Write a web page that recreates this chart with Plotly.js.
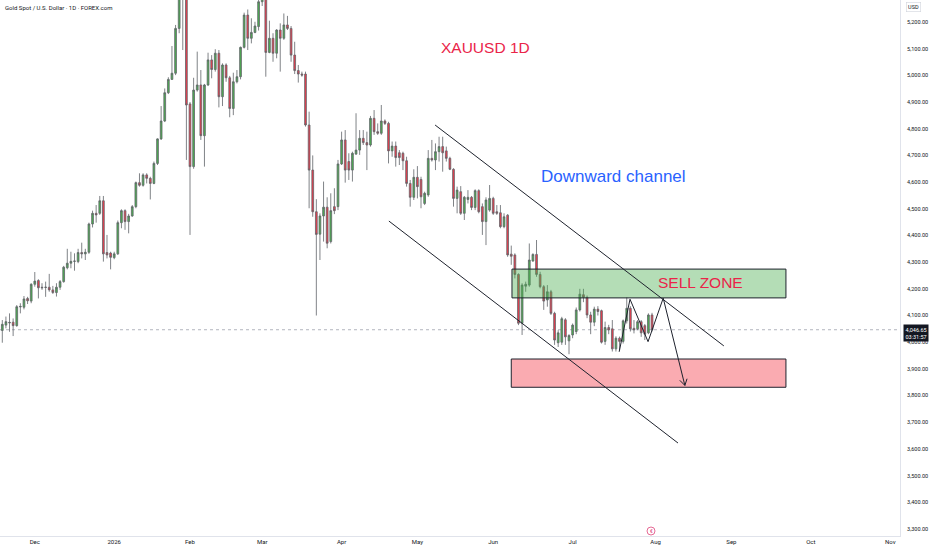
<!DOCTYPE html>
<html>
<head>
<meta charset="utf-8">
<script src="https://cdn.plot.ly/plotly-3.0.1.min.js"></script>
<style>html,body{margin:0;padding:0;background:#fff;}#chart{width:932px;height:550px;}</style>
</head>
<body>
<div id="chart"></div>
<script>
// ---- data (daily XAUUSD candles from 2025-11-18) ----
const firstDay = '2025-11-18';
const holidays = ['2025-12-25', '2026-01-01', '2026-04-03'];

const open = [
4044,4064,4072,4075,4062,4132,4131,4164,4154,4217,4231,4206,4205,4206,4196,4186,4206,4227,4279,4296,
4303,4302,4336,4331,4337,4443,4483,4483,4530,4336,4334,4317,4331,4448,4493,4452,4473,4508,4598,4588,
4627,4614,4595,4670,4762,4829,4935,4985,5008,5176,5400,5380,4893,4658,4945,4964,4774,4964,5058,5022,
5083,4920,5039,4991,4876,4976,4995,5105,5226,5139,5161,5183,5276,5300,5086,5139,5083,5170,5139,5189,
5176,5076,5018,5005,5005,4814,4645,4489,4405,4473,4506,4377,4508,4508,4668,4758,4677,4645,4705,4720,
4764,4748,4739,4839,4789,4783,4829,4820,4717,4735,4710,4708,4680,4595,4543,4618,4610,4520,4552,4689,
4683,4714,4733,4717,4689,4648,4539,4564,4483,4535,4543,4505,4568,4508,4452,4495,4539,4489,4485,4433,
4476,4330,4327,4254,4071,4210,4214,4304,4329,4254,4208,4158,4189,4108,3998,4000,4084,4005,4027,4040,
4121,4178,4168,4102,4075,4124,4118,4003,4055,4050,3975,4015,4003,4080,4127,4052,4050,4077,4062,4035,
4102];
const high = [
4083,4096,4108,4089,4139,4146,4173,4170,4221,4263,4236,4221,4227,4256,4211,4221,4233,4286,4350,4339,
4333,4350,4373,4350,4448,4493,4514,4548,4548,4402,4339,4339,4456,4498,4498,4481,4514,4602,4633,4633,
4633,4620,4677,4764,4885,4951,4993,5110,5189,5415,5595,5450,4900,4991,5089,5020,4968,5085,5076,5098,
5095,5045,5045,4998,5010,5020,5108,5235,5247,5214,5201,5285,5330,5320,5205,5158,5173,5195,5232,5223,
5185,5126,5039,5014,5014,4864,4700,4536,4483,4602,4543,4558,4577,4683,4789,4795,4708,4714,4858,4795,
4795,4789,4848,4870,4820,4889,4835,4826,4752,4752,4720,4714,4695,4608,4648,4660,4620,4564,4720,4758,
4745,4770,4770,4733,4695,4652,4583,4585,4548,4570,4548,4573,4573,4520,4543,4589,4545,4514,4514,4483,
4480,4362,4333,4258,4221,4227,4370,4333,4383,4264,4214,4214,4196,4114,4045,4095,4090,4030,4070,4130,
4200,4200,4175,4114,4133,4135,4122,4077,4065,4083,4022,4021,4085,4168,4135,4083,4083,4083,4068,4108,
4110];
const low = [
3998,4052,4039,4023,4058,4108,4123,4143,4146,4208,4164,4196,4170,4189,4181,4171,4196,4223,4273,4277,
4268,4296,4314,4308,4331,4430,4448,4477,4302,4314,4273,4311,4327,4427,4421,4408,4470,4502,4583,4583,
4595,4535,4592,4664,4758,4825,4930,4983,5001,5158,5095,4683,4402,4650,4939,4758,4658,4960,4989,5014,
4880,4885,4976,4843,4851,4970,4985,5101,5095,5120,5158,5168,5260,4995,5083,5051,5064,5014,5133,5170,
5051,5005,4973,4995,4808,4502,4470,4100,4308,4377,4352,4370,4480,4495,4664,4598,4608,4602,4702,4702,
4739,4645,4733,4777,4777,4777,4814,4670,4695,4658,4664,4645,4583,4508,4533,4539,4502,4514,4545,4677,
4645,4677,4639,4677,4645,4508,4483,4477,4458,4520,4495,4495,4483,4402,4364,4489,4477,4477,4427,4427,
4320,4290,4239,4064,4027,4189,4208,4302,4245,4202,4121,4133,4102,3990,3982,3990,3990,3955,4015,4030,
4115,4150,4090,4030,4060,4100,3995,3990,4030,3965,3965,3970,3995,4070,4040,4033,4045,4020,4008,4030,
4040];
const close = [
4067,4077,4074,4062,4133,4134,4162,4155,4217,4229,4204,4204,4206,4196,4186,4206,4227,4281,4296,4303,
4304,4336,4331,4337,4443,4483,4477,4530,4331,4327,4318,4331,4448,4493,4452,4473,4508,4598,4588,4627,
4614,4595,4670,4762,4829,4935,4985,5008,5176,5400,5380,4889,4658,4945,4964,4774,4964,5058,5022,5083,
4920,5039,4991,4876,4976,4995,5105,5226,5139,5161,5185,5276,5300,5086,5139,5083,5170,5139,5189,5176,
5076,5018,5005,5001,4814,4645,4489,4404,4473,4506,4371,4493,4493,4668,4758,4645,4645,4708,4720,4764,
4748,4739,4839,4789,4783,4829,4820,4717,4735,4692,4692,4680,4595,4543,4618,4583,4545,4558,4689,4683,
4714,4733,4710,4689,4648,4539,4570,4483,4543,4543,4505,4568,4489,4452,4533,4539,4483,4483,4433,4470,
4327,4322,4254,4071,4214,4217,4308,4329,4254,4208,4154,4189,4108,4008,4035,4088,4020,4025,4064,4121,
4180,4168,4102,4075,4124,4115,4000,4055,4046,3975,4015,4003,4080,4127,4050,4046,4077,4035,4030,4102,
4046.65];

const monthTickDates = ['2025-12-01','2026-01-02','2026-02-02','2026-03-02','2026-04-01','2026-05-01',
                        '2026-06-01','2026-07-01','2026-08-03','2026-09-01','2026-10-01','2026-11-02'];
const monthTickLabels = ['Dec','2026','Feb','Mar','Apr','May','Jun','Jul','Aug','Sep','Oct','Nov'];
const priceTicks = [3300,3400,3500,3600,3700,3800,3900,4000,4100,4200,4300,4400,4500,4600,4700,4800,4900,5000,5100,5200];
const lastPrice = close[close.length - 1];
const countdown = '03:31:57';

// ---- trading-day calendar (weekdays without the session holidays) ----
const DAY = 86400000;
const cal = [];
(function () {
  let t = Date.parse(firstDay + 'T00:00:00Z');
  while (cal.length < 270) {
    const dd = new Date(t);
    const wd = dd.getUTCDay();
    const s = dd.toISOString().slice(0, 10);
    if (wd !== 0 && wd !== 6 && holidays.indexOf(s) < 0) cal.push(t);
    t += DAY;
  }
})();
function fmt(ms) { return new Date(ms).toISOString().slice(0, 19).replace('T', ' '); }
function xAt(i) {           // fractional trading-bar index -> date string
  const k = Math.floor(i);
  if (k < 0) return fmt(cal[0] + i * DAY);
  return fmt(cal[k] + (i - k) * DAY);
}
const dates = cal.slice(0, close.length).map(t => new Date(t).toISOString().slice(0, 10));

// ---- chart ----
const trace = {
  type: 'candlestick',
  x: dates, open: open, high: high, low: low, close: close,
  increasing: { line: { color: '#5f6368', width: 0.8 }, fillcolor: '#4caf50' },
  decreasing: { line: { color: '#5f6368', width: 0.8 }, fillcolor: '#ef3b4c' },
  hoverinfo: 'skip',
  showlegend: false
};

const W = 900, H = 536;  // plot area in px
const px = v => v / W;
const py = v => 1 - v / H;
const lineStyle = { color: '#1e222d', width: 1 };
function seg(i0, y0, i1, y1) {
  return { type: 'line', xref: 'x', yref: 'y', x0: xAt(i0), y0: y0, x1: xAt(i1), y1: y1, line: lineStyle, layer: 'above' };
}

const shapes = [
  // current price dotted line
  { type: 'line', xref: 'paper', yref: 'y', x0: 0, x1: 1, y0: lastPrice, y1: lastPrice,
    line: { color: '#b2b5be', width: 1, dash: 'dot' }, layer: 'below' },
  // sell zone box
  { type: 'rect', xref: 'x', yref: 'y', x0: xAt(141.2), x1: xAt(217.1), y0: 4166, y1: 4274,
    fillcolor: 'rgba(76,175,80,0.42)', line: { color: '#1e222d', width: 1 }, layer: 'above' },
  // target box
  { type: 'rect', xref: 'x', yref: 'y', x0: xAt(141.0), x1: xAt(217.1), y0: 3831, y1: 3937,
    fillcolor: 'rgba(242,54,69,0.42)', line: { color: '#1e222d', width: 1 }, layer: 'above' },
  // channel
  seg(119.9, 4814, 199.9, 3986),
  seg(107.1, 4454, 187.2, 3622),
  // projected path
  seg(170.9, 3964, 173.9, 4161),
  seg(173.9, 4161, 178.9, 4002),
  seg(178.9, 4002, 183.1, 4165),
  seg(183.1, 4165, 189.1, 3838),
  seg(189.1, 3838, 187.7, 3857),
  seg(189.1, 3838, 189.7, 3863),
  // event marker
  { type: 'circle', xref: 'paper', yref: 'paper', x0: px(647), x1: px(655), y0: py(535), y1: py(527),
    line: { color: '#e0457b', width: 0.8 }, fillcolor: 'rgba(0,0,0,0)' }
];

const annotations = [
  { xref: 'paper', yref: 'paper', x: px(3), y: py(7.5), xanchor: 'left', yanchor: 'middle', showarrow: false,
    text: 'Gold Spot / U.S. Dollar · 1D · FOREX.com', font: { family: 'Roboto, Liberation Sans, sans-serif', size: 6, color: '#131722' } },
  { xref: 'paper', yref: 'paper', x: px(485.5), y: py(47), xanchor: 'center', yanchor: 'middle', showarrow: false,
    text: 'XAUUSD 1D', font: { family: 'Liberation Sans, Arial, sans-serif', size: 15.5, color: '#ea2449' } },
  { xref: 'paper', yref: 'paper', x: px(613), y: py(176), xanchor: 'center', yanchor: 'middle', showarrow: false,
    text: 'Downward channel', font: { family: 'Liberation Sans, Arial, sans-serif', size: 17, color: '#2962ff' } },
  { xref: 'paper', yref: 'paper', x: px(700), y: py(282.5), xanchor: 'center', yanchor: 'middle', showarrow: false,
    text: 'SELL ZONE', font: { family: 'Liberation Sans, Arial, sans-serif', size: 15.5, color: '#ea2449' } },
  { xref: 'paper', yref: 'paper', x: px(913), y: py(7), xanchor: 'center', yanchor: 'middle', showarrow: false,
    text: 'USD', font: { family: 'Roboto, Liberation Sans, sans-serif', size: 5.5, color: '#131722' },
    bordercolor: '#d1d4dc', borderwidth: 0.6, borderpad: 1.5 },
  { xref: 'paper', yref: 'y', x: px(916), y: lastPrice, yshift: -3, xanchor: 'center', yanchor: 'middle', showarrow: false,
    text: '4,046.65<br>' + countdown, align: 'center',
    font: { family: 'Roboto, Liberation Sans, sans-serif', size: 5.5, color: '#ffffff' },
    bgcolor: '#131722', borderpad: 1.5 },
  { xref: 'paper', yref: 'paper', x: px(651), y: py(531), xanchor: 'center', yanchor: 'middle', showarrow: false,
    text: '€', font: { family: 'Roboto, sans-serif', size: 5, color: '#e0457b' } }
];

const layout = {
  width: 932, height: 550,
  margin: { l: 0, r: 32, t: 0, b: 14, pad: 0 },
  paper_bgcolor: '#ffffff', plot_bgcolor: '#ffffff',
  showlegend: false,
  dragmode: false,
  font: { family: 'Roboto, Liberation Sans, sans-serif', size: 6, color: '#131722' },
  xaxis: {
    type: 'date',
    range: [xAt(-0.64), xAt(248.7)],
    rangebreaks: [{ bounds: ['sat', 'mon'] }, { values: holidays }],
    rangeslider: { visible: false },
    tickmode: 'array', tickvals: monthTickDates, ticktext: monthTickLabels,
    ticks: '', showgrid: false, zeroline: false,
    showline: true, linecolor: '#e0e3eb', linewidth: 1,
    tickfont: { size: 6, color: '#131722' },
    fixedrange: true
  },
  yaxis: {
    side: 'right',
    range: [3273.6, 5282.5],
    tickmode: 'array', tickvals: priceTicks,
    tickformat: ',.2f',
    ticks: 'outside', ticklen: 5, tickcolor: 'rgba(0,0,0,0)',
    showgrid: false, zeroline: false,
    showline: true, linecolor: '#e0e3eb', linewidth: 1,
    tickfont: { size: 5.5, color: '#131722' },
    fixedrange: true
  },
  shapes: shapes,
  annotations: annotations
};

Plotly.newPlot('chart', [trace], layout, { displayModeBar: false, staticPlot: true });
</script>
</body>
</html>
